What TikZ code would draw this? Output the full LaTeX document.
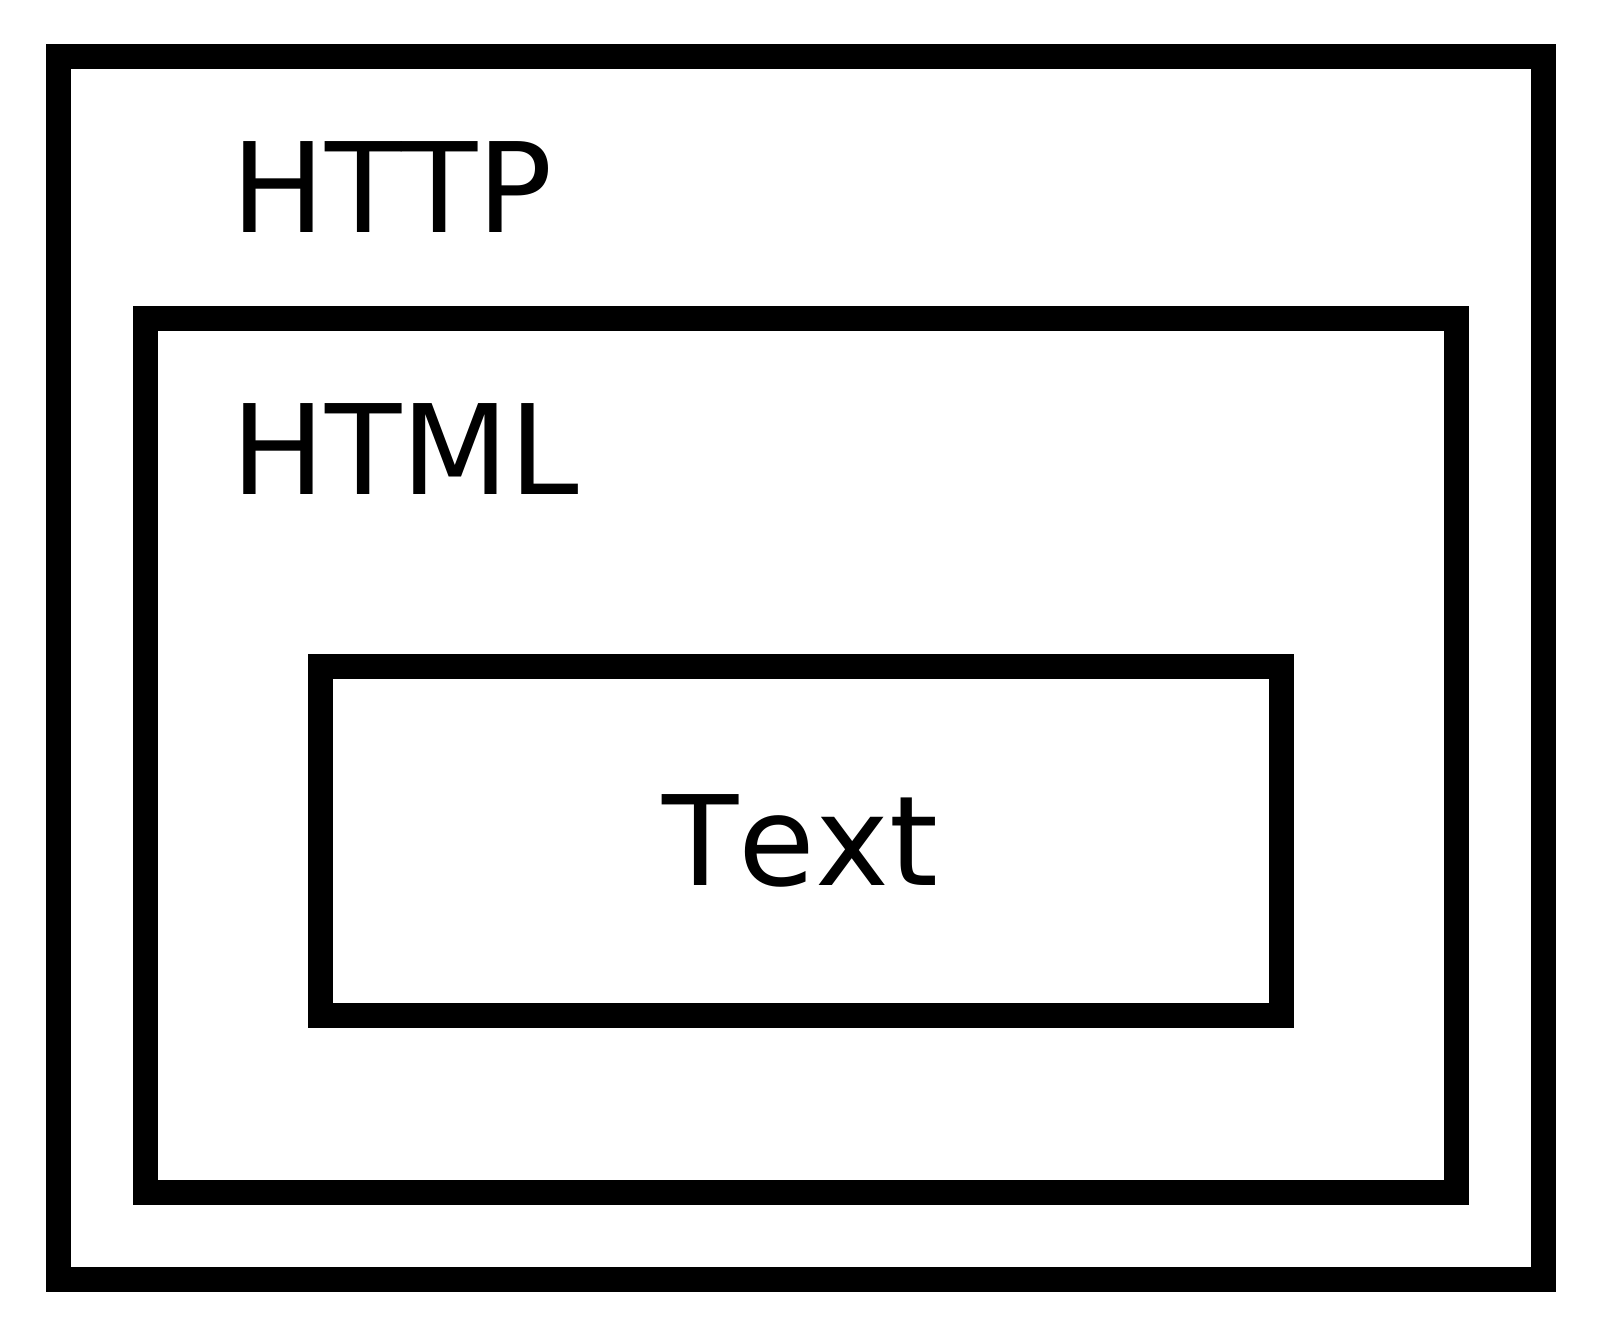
\documentclass[tikz,border=0pt]{standalone}
\usepackage{fontspec}
\setmainfont{DejaVu Sans}[Kerning=Off]
\usetikzlibrary{calc}

\tikzset{
  layerbox/.style = {rectangle, draw = black, line width = 0.25cm, inner sep = 0pt},
  layerlabel/.style = {anchor = base west, inner sep = 0pt, font = \fontsize{35.5}{42}\selectfont}
}

\begin{document}
\begin{tikzpicture}
                \useasboundingbox (0, 0) rectangle (16.02, 13.38);

                \node[layerbox,minimum width = 14.847cm,minimum height = 12.233cm] (http) at (8.012, 6.697) {};
                \node[layerbox,minimum width = 13.107cm,minimum height = 8.74cm] (html) at (8.012, 5.827) {};
                \node[layerbox,minimum width = 9.61cm,minimum height = 3.485cm,font = \fontsize{35.5}{42}\selectfont] (text) at (8.005, 4.968) {Text};

                \node[layerlabel] (httplabel) at (2.31, 11.06) {HTTP};
                \node[layerlabel] (htmllabel) at (2.31, 8.44) {HTML};

            \end{tikzpicture}
\end{document}
